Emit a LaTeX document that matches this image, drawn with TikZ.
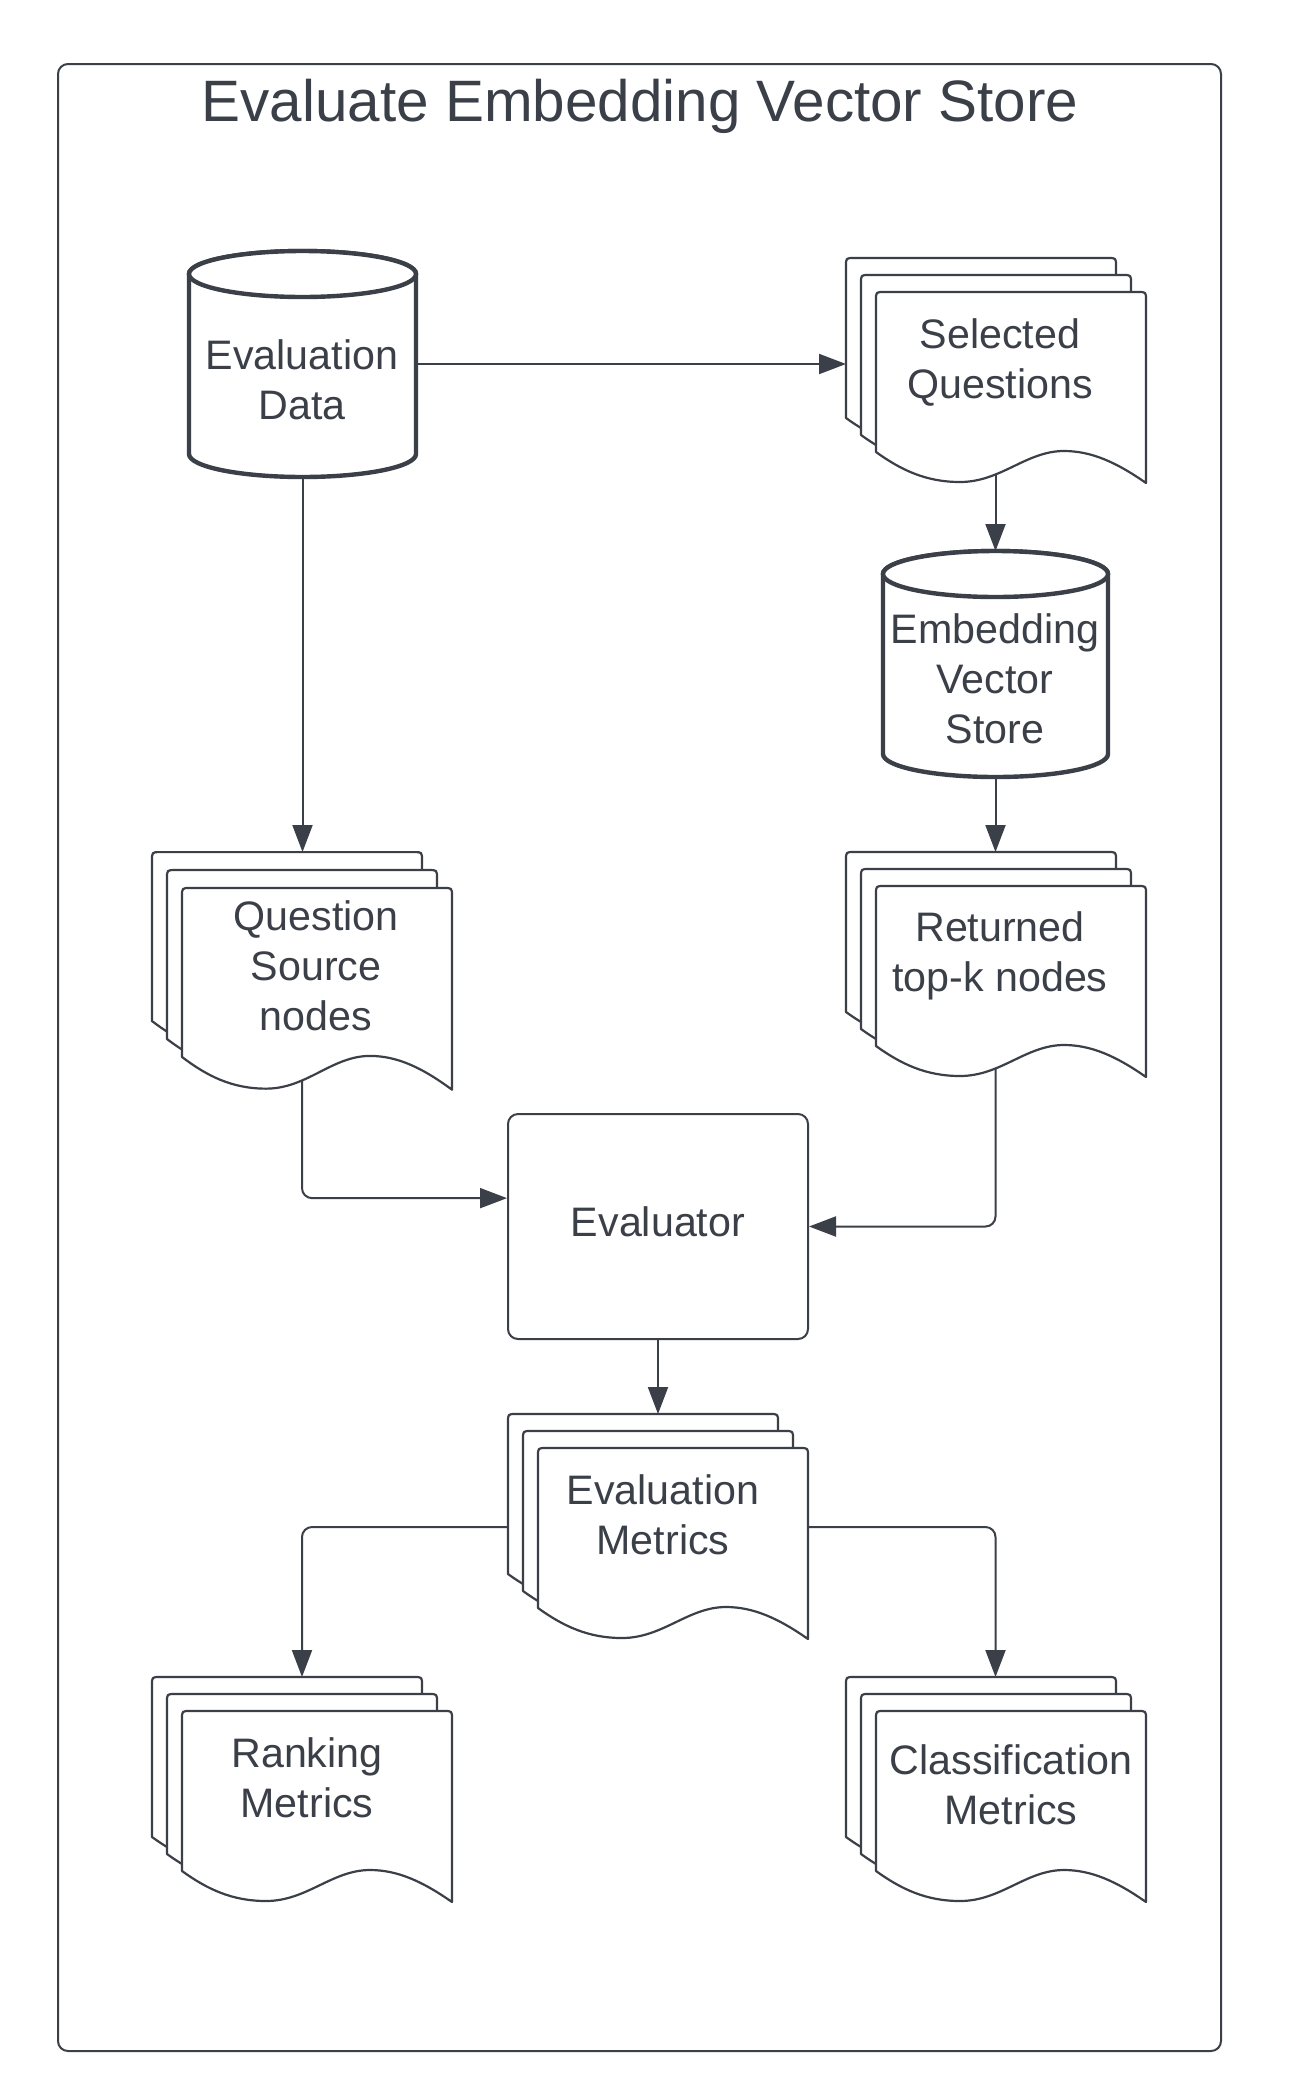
\documentclass[tikz,border=0pt]{standalone}
\usepackage{fontspec}
\setmainfont{Liberation Sans}
\usetikzlibrary{arrows.meta,calc,fit}
\definecolor{ink}{RGB}{58,63,72}
\tikzset{
  lbl/.style={text=ink, align=center, font=\fontsize{20.6}{25}\selectfont, inner sep=0pt},
  conn/.style={draw=ink, line width=1pt, rounded corners=5pt, -{Triangle[length=13.5pt,width=10pt]}},
  docline/.style={draw=ink, fill=white, line width=1.1pt, line join=round},
  cylline/.style={draw=ink, fill=white, line width=2.2pt},
  hit/.style={inner sep=0pt, outer sep=0pt, draw=none},
  docsheet/.pic={\path[docline] (0,160) -- (0,8) .. controls (0,0) .. (8,0) -- (262,0) .. controls (270,0) .. (270,8) -- (270,191) .. controls (240,170) and (215,159) .. (188,159) .. controls (150,159) and (125,190) .. (84,190) .. controls (50,190) and (25,178) .. (0,160) -- cycle;}
}
\newcommand\mdoc[3]{%
  \pic[yscale=#3] at ({#1-30},{#2-34*#3}) {docsheet};
  \pic[yscale=#3] at ({#1-15},{#2-17*#3}) {docsheet};
  \pic[yscale=#3] at (#1,#2) {docsheet};}
\newcommand\cyl[5]{%
  \path[cylline] (#1,{#2+#5}) -- (#1,{#4-#5}) arc[start angle=180, end angle=0, x radius={(#3-#1)/2}, y radius=#5] -- (#3,{#2+#5}) arc[start angle=0, end angle=-180, x radius={(#3-#1)/2}, y radius=#5] -- cycle;
  \path[cylline] ({(#1+#3)/2},{#2+#5}) ellipse[x radius={(#3-#1)/2}, y radius=#5];}
\begin{document}
\begin{tikzpicture}[x=0.5pt,y=-0.5pt]
\fill[white] (0,0) rectangle (1290,2094);
\useasboundingbox (0,0) rectangle (1290,2094);
\draw[ink, line width=1pt, rounded corners=5pt] (58,64) rectangle (1221,2051);
\node[anchor=base, text=ink, font=\fontsize{29.2}{34}\selectfont, inner sep=0pt] (title) at (640,121) {Evaluate Embedding Vector Store};

% invisible hit boxes
\node[hit, fit={(189,251) (416,477)}] (ed) {};
\node[hit, fit={(846,258) (1145,483)}] (sq) {};
\node[hit, fit={(883,551) (1108,777)}] (emb) {};
\node[hit, fit={(152,852) (452,1090)}] (qs) {};
\node[hit, fit={(846,852) (1145,1077)}] (rt) {};
\node[hit, fit={(508,1414) (808,1640)}] (em) {};
\node[hit, fit={(152,1677) (452,1902)}] (rk) {};
\node[hit, fit={(846,1677) (1145,1902)}] (cl) {};
\node[lbl, draw=ink, line width=1pt, rounded corners=5pt, fill=white, minimum width=150pt, minimum height=112.5pt] (ev) at (658,1226.5) {\strut Evaluator};

% connectors
\draw[conn] (ed.east) -- (ed.east -| sq.west);
\draw[conn] (ed.south) -- (ed.south |- qs.north);
\draw[conn] (emb.north |- sq.center) -- (emb.north);
\draw[conn] (emb.south) -- (emb.south |- rt.north);
\draw[conn] (qs.center) |- ($(ev.north west)!0.375!(ev.south west)$);
\draw[conn] (rt.center -| emb.south) |- (ev.east);
\draw[conn] (ev.south) -- (ev.south |- em.north);
\draw[conn] (em.center) -| (rk.north);
\draw[conn] (em.center) -| (cl.north);

% shapes
\cyl{189}{251}{416}{477}{23}
\cyl{883}{551}{1108}{777}{23}
\mdoc{876}{292}{1}
\mdoc{182}{888}{1.056}
\mdoc{876}{886}{1}
\mdoc{538}{1448}{1}
\mdoc{182}{1711}{1}
\mdoc{876}{1711}{1}

% texts
\node[lbl] (edt) at (302,384.5) {\strut Evaluation\\\strut Data};
\node[lbl] (sqt) at (1000,363.5) {\strut Selected\\\strut Questions};
\node[lbl] (embt) at (995,683.5) {\strut Embedding\\\strut Vector\\\strut Store};
\node[lbl] (qst) at (316,970.5) {\strut Question\\\strut Source\\\strut nodes};
\node[lbl] (rtt) at (1000,956) {\strut Returned\\\strut top-k nodes};
\node[lbl] (emt) at (663,1519) {\strut Evaluation\\\strut Metrics};
\node[lbl] (rkt) at (307,1782) {\strut Ranking\\\strut Metrics};
\node[lbl] (clt) at (1011,1789.5) {\strut Classification\\\strut Metrics};
\end{tikzpicture}
\end{document}
